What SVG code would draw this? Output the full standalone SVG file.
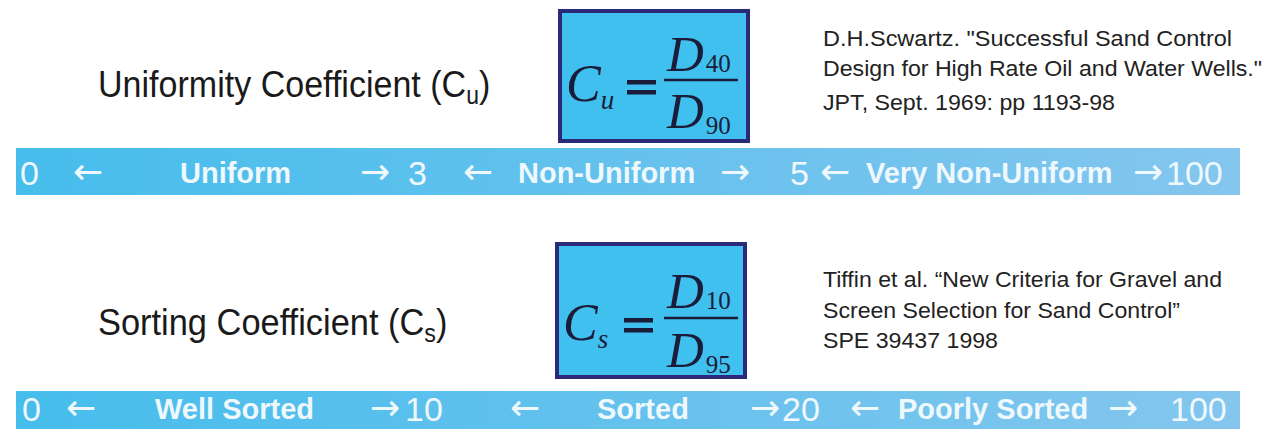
<svg xmlns="http://www.w3.org/2000/svg" width="1280" height="429" viewBox="0 0 1280 429">
<defs>
<linearGradient id="bar" x1="0" y1="0" x2="1" y2="0">
<stop offset="0" stop-color="#46bdec"/>
<stop offset="1" stop-color="#84c6ee"/>
</linearGradient>
</defs>
<style>
.lbl{font-family:"Liberation Sans",Arial,sans-serif;font-size:37px;fill:#1a1a1a}
.sub{font-size:25px}
.ref{font-family:"Liberation Sans",Arial,sans-serif;font-size:22px;fill:#222}
.box{fill:#3fc0ee;stroke:#2b2a78;stroke-width:4}
.m{font-family:"Liberation Serif","Times New Roman",serif;font-style:italic;fill:#1b1b3a}
.mn{font-family:"Liberation Serif","Times New Roman",serif;fill:#1b1b3a}
.eq{fill:#1b1b3a}
.bw{font-family:"Liberation Sans",Arial,sans-serif;font-size:29px;font-weight:bold;fill:#eef8fd}
.bn{font-family:"Liberation Sans",Arial,sans-serif;font-size:34px;fill:#eef8fd}
.ar{font-family:"DejaVu Sans",sans-serif;font-size:36px;fill:#eef8fd}
</style>
<rect width="1280" height="429" fill="#ffffff"/>

<g id="uniformity-label">
<text class="lbl" transform="translate(98,97) scale(0.92,1)">Uniformity Coefficient (C<tspan class="sub" dy="7">u</tspan><tspan dy="-7">)</tspan></text>
</g>
<g id="cu-formula">
<rect class="box" x="560" y="11" width="188" height="130"/>
<text class="m" x="566" y="101" font-size="52">C<tspan font-size="27" dy="8">u</tspan></text>
<rect class="eq" x="627" y="80" width="29" height="4.5"/>
<rect class="eq" x="627" y="90" width="29" height="4.5"/>
<text class="m" x="667" y="71" font-size="51">D<tspan class="mn" font-style="normal" font-size="25" dx="2" dy="1">40</tspan></text>
<line x1="664" y1="80" x2="738" y2="80" stroke="#1b1b3a" stroke-width="2.5"/>
<text class="m" x="667" y="128" font-size="51">D<tspan class="mn" font-style="normal" font-size="25" dx="2" dy="6">90</tspan></text>
</g>
<g id="ref-schwartz">
<text class="ref" x="823" y="46" textLength="409" lengthAdjust="spacingAndGlyphs">D.H.Scwartz.  "Successful Sand Control</text>
<text class="ref" x="823" y="76" textLength="439" lengthAdjust="spacingAndGlyphs">Design for High Rate Oil and Water Wells."</text>
<text class="ref" x="823" y="110" textLength="292" lengthAdjust="spacingAndGlyphs">JPT, Sept. 1969: pp 1193-98</text>
</g>
<g id="uniformity-bar">
<rect x="16" y="148" width="1224" height="47" fill="url(#bar)"/>
<text class="bn" x="20" y="185">0</text>
<text class="ar" x="73" y="184">←</text>
<text class="bw" x="180" y="183">Uniform</text>
<text class="ar" x="360" y="184">→</text>
<text class="bn" x="408" y="185">3</text>
<text class="ar" x="463" y="184">←</text>
<text class="bw" x="518" y="183">Non-Uniform</text>
<text class="ar" x="720" y="184">→</text>
<text class="bn" x="790" y="185">5</text>
<text class="ar" x="820" y="184">←</text>
<text class="bw" x="866" y="183">Very Non-Uniform</text>
<text class="ar" x="1133" y="184">→</text>
<text class="bn" x="1166" y="185">100</text>
</g>

<g id="sorting-label">
<text class="lbl" transform="translate(98,335) scale(0.93,1)">Sorting Coefficient (C<tspan class="sub" dy="7">s</tspan><tspan dy="-7">)</tspan></text>
</g>
<g id="cs-formula">
<rect class="box" x="557" y="244" width="188" height="133"/>
<text class="m" x="563" y="340" font-size="52">C<tspan font-size="27" dy="8">s</tspan></text>
<rect class="eq" x="624" y="318" width="29" height="4.5"/>
<rect class="eq" x="624" y="328" width="29" height="4.5"/>
<text class="m" x="667" y="308" font-size="51">D<tspan class="mn" font-style="normal" font-size="25" dx="2" dy="1">10</tspan></text>
<line x1="664" y1="318" x2="738" y2="318" stroke="#1b1b3a" stroke-width="2.5"/>
<text class="m" x="667" y="367" font-size="51">D<tspan class="mn" font-style="normal" font-size="25" dx="2" dy="6">95</tspan></text>
</g>
<g id="ref-tiffin">
<text class="ref" x="823" y="287" textLength="399" lengthAdjust="spacingAndGlyphs">Tiffin et al. “New Criteria for Gravel and</text>
<text class="ref" x="823" y="318" textLength="357" lengthAdjust="spacingAndGlyphs">Screen Selection for Sand Control”</text>
<text class="ref" x="823" y="348" textLength="175" lengthAdjust="spacingAndGlyphs">SPE 39437 1998</text>
</g>
<g id="sorting-bar">
<rect x="16" y="391" width="1224" height="38" fill="url(#bar)"/>
<text class="bn" x="22" y="421">0</text>
<text class="ar" x="66" y="420">←</text>
<text class="bw" x="155" y="419">Well Sorted</text>
<text class="ar" x="370" y="420">→</text>
<text class="bn" x="405" y="421">10</text>
<text class="ar" x="510" y="420">←</text>
<text class="bw" x="597" y="419">Sorted</text>
<text class="ar" x="750" y="420">→</text>
<text class="bn" x="782" y="421">20</text>
<text class="ar" x="850" y="420">←</text>
<text class="bw" x="898" y="419">Poorly Sorted</text>
<text class="ar" x="1108" y="420">→</text>
<text class="bn" x="1170" y="421">100</text>
</g>
</svg>
